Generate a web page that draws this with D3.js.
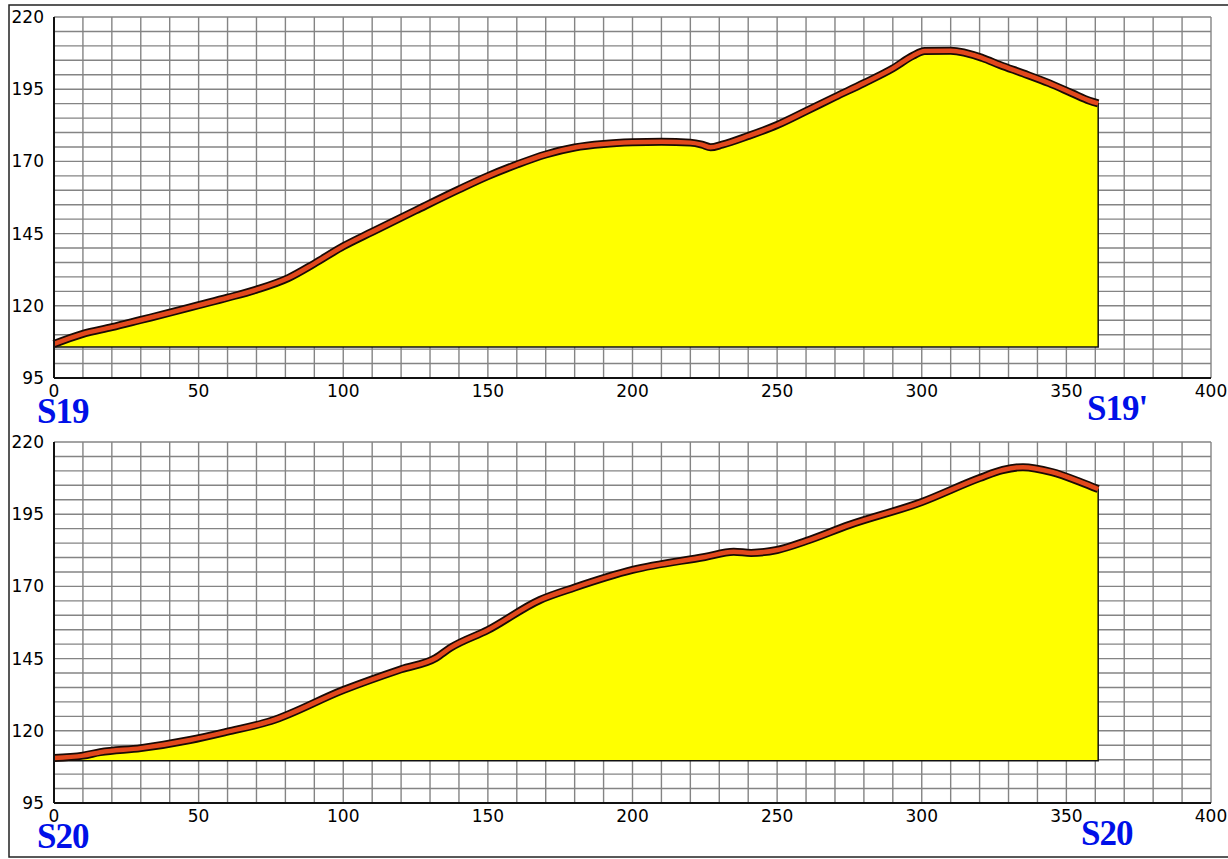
<!DOCTYPE html>
<html>
<head>
<meta charset="utf-8">
<script src="https://cdn.jsdelivr.net/npm/d3@7"></script>
<style>
  html, body { margin: 0; padding: 0; background: #fff; }
  svg { display: block; }
</style>
</head>
<body>
<div id="chart"></div>
<script>
// profile S19 - S19' (distance m, elevation m)
var s19Dist = [0, 10, 20, 30, 40, 50, 60, 70, 81, 90, 100, 110, 125, 140, 150, 160, 170, 180, 190, 200, 210, 220, 224, 227, 231, 240, 250, 260, 270, 280, 290, 297, 301, 310, 321, 327, 335, 344, 352, 358, 361];
var s19Elev = [106.8, 110.3, 112.6, 115.1, 117.6, 120.2, 122.8, 125.6, 129.6, 134.6, 140.6, 145.6, 153, 160.3, 164.9, 168.9, 172.4, 174.8, 176, 176.6, 176.8, 176.5, 175.8, 174.9, 175.8, 178.8, 182.6, 187.4, 192.3, 197.1, 202.2, 206.6, 208.2, 208.3, 205.8, 203.4, 200.5, 197.1, 193.6, 191, 190.1];
var s19Base = 105.7;

// profile S20 - S20
var s20Dist = [0, 10, 16, 30, 47, 60, 75, 100, 120, 132, 137, 150, 168, 180, 200, 225, 235, 241, 250, 260, 275, 300, 320, 328, 335, 345, 355, 361];
var s20Elev = [110.6, 111.4, 112.6, 114, 116.8, 119.7, 123.4, 134.1, 141.3, 145.2, 148.7, 154.9, 165.3, 169.6, 175.7, 180.2, 182, 181.6, 182.6, 185.7, 191.3, 199.2, 207.5, 210.3, 211.3, 209.6, 206.1, 203.7];
var s20Base = 109.6;

var xTicks = [0, 50, 100, 150, 200, 250, 300, 350, 400];
var yTicks = [95, 120, 145, 170, 195, 220];

var W = 1228, H = 859;
var svg = d3.select("#chart").append("svg")
    .attr("width", W)
    .attr("height", H);

// outer frame
svg.append("rect")
    .attr("x", 9).attr("y", 5)
    .attr("width", W).attr("height", 852)
    .attr("fill", "none")
    .attr("stroke", "#222")
    .attr("stroke-width", 1.5);

var x = d3.scaleLinear().domain([0, 400]).range([54, 1211]);

function drawPanel(top, bottom, dist, elev, base, leftLabel, rightLabel, rightX) {
    var y = d3.scaleLinear().domain([95, 220]).range([bottom, top]);
    var g = svg.append("g");

    // grid
    g.append("g").selectAll("line")
        .data(d3.range(0, 401, 10))
        .enter().append("line")
        .attr("x1", d => x(d)).attr("x2", d => x(d))
        .attr("y1", top).attr("y2", bottom)
        .attr("stroke", "#848484").attr("stroke-width", 1.4);
    g.append("g").selectAll("line")
        .data(d3.range(95, 221, 5))
        .enter().append("line")
        .attr("x1", x(0)).attr("x2", x(400))
        .attr("y1", d => y(d)).attr("y2", d => y(d))
        .attr("stroke", "#848484").attr("stroke-width", 1.4);

    var pts = dist.map((d, i) => [d, elev[i]]);

    // yellow fill down to base level
    var area = d3.area()
        .x(d => x(d[0]))
        .y0(y(base))
        .y1(d => y(d[1]))
        .curve(d3.curveMonotoneX);
    g.append("path")
        .datum(pts)
        .attr("d", area)
        .attr("fill", "#ffff00")
        .attr("stroke", "#111")
        .attr("stroke-width", 1.5);

    // terrain line: black outline + orange core
    var line = d3.line()
        .x(d => x(d[0]))
        .y(d => y(d[1]))
        .curve(d3.curveMonotoneX);
    g.append("path").datum(pts).attr("d", line)
        .attr("fill", "none").attr("stroke", "#1a0a05")
        .attr("stroke-width", 8).attr("stroke-linejoin", "round");
    g.append("path").datum(pts).attr("d", line)
        .attr("fill", "none").attr("stroke", "#e2481c")
        .attr("stroke-width", 4.5).attr("stroke-linejoin", "round");

    // axes lines
    g.append("line")
        .attr("x1", x(0)).attr("x2", x(0))
        .attr("y1", top).attr("y2", bottom)
        .attr("stroke", "#111").attr("stroke-width", 2);
    g.append("line")
        .attr("x1", x(0)).attr("x2", x(400))
        .attr("y1", bottom).attr("y2", bottom)
        .attr("stroke", "#111").attr("stroke-width", 2);

    // tick labels
    g.append("g").selectAll("text")
        .data(yTicks)
        .enter().append("text")
        .attr("x", 44)
        .attr("y", d => y(d) + 6)
        .attr("text-anchor", "end")
        .attr("font-family", "DejaVu Sans")
        .attr("font-size", 17)
        .attr("fill", "#000")
        .text(d => d);
    g.append("g").selectAll("text")
        .data(xTicks)
        .enter().append("text")
        .attr("x", d => x(d))
        .attr("y", bottom + 19)
        .attr("text-anchor", "middle")
        .attr("font-family", "DejaVu Sans")
        .attr("font-size", 17)
        .attr("fill", "#000")
        .text(d => d);

    // section names
    g.append("text")
        .attr("x", 37).attr("y", bottom + 45)
        .attr("font-family", "Liberation Serif")
        .attr("font-weight", "bold")
        .attr("font-size", 35)
        .attr("letter-spacing", -1)
        .attr("fill", "#0010e8")
        .text(leftLabel);
    g.append("text")
        .attr("x", rightX).attr("y", bottom + 42)
        .attr("font-family", "Liberation Serif")
        .attr("font-weight", "bold")
        .attr("font-size", 35)
        .attr("letter-spacing", -1)
        .attr("fill", "#0010e8")
        .text(rightLabel);
}

drawPanel(17, 378, s19Dist, s19Elev, s19Base, "S19", "S19'", 1087);
drawPanel(442, 803, s20Dist, s20Elev, s20Base, "S20", "S20", 1081);
</script>
</body>
</html>
